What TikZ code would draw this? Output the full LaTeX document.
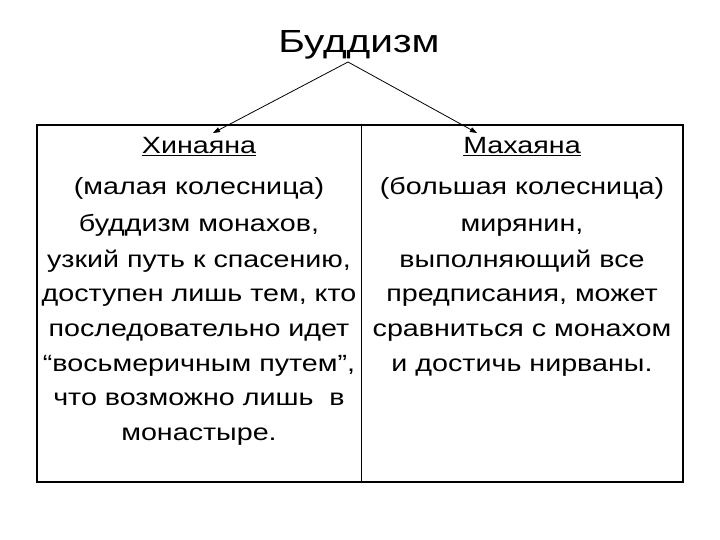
\documentclass[tikz,border=0pt]{standalone}
\usepackage{graphicx}
\usepackage{fontspec}
\setmainfont{Liberation Sans}
\usetikzlibrary{arrows.meta}
\newcommand{\wide}[1]{\scalebox{1.22}[1]{#1}}
\tikzset{
	line/.style={font=\fontsize{23.5}{34}\selectfont, anchor=base, inner sep=0pt},
	frame/.style={line width=1.6pt},
	link/.style={-{Triangle[length=7pt,width=5pt]}, line width=0.8pt}
}

\begin{document}
\begin{tikzpicture}[x=1pt, y=-1pt]
\useasboundingbox (0,0) rectangle (720,540);

\node[font=\fontsize{32}{38}\selectfont, anchor=base, inner sep=0pt] (title) at (359,53) {\scalebox{1.27}[1]{Буддизм}};

% frame and divider
\draw[frame] (37,125) rectangle (683,482);
\draw[line width=0.8pt] (361,125) -- (361,482);

% left column
\foreach \y/\txt [count=\i] in {154/{\underline{Хинаяна}}, 195/{(малая колесница)},
	232/{буддизм монахов,}, 267/{узкий путь к спасению,}, 301/{доступен лишь тем, кто},
	336/{последовательно идет}, 371/{“восьмеричным путем”,}, 405/{что возможно лишь~~в},
	440/{монастыре.}}
{
	\node[line] (hina\i) at (199,\y) {\wide{\txt}};
}

% right column
\foreach \y/\txt [count=\i] in {154/{\underline{Махаяна}}, 195/{(большая колесница)},
	232/{мирянин,}, 267/{выполняющий все}, 301/{предписания, может},
	336/{сравниться с монахом}, 371/{и достичь нирваны.}}
{
	\node[line] (maha\i) at (522,\y) {\wide{\txt}};
}

\coordinate (apex) at (348,62);
\coordinate (hinaend) at (213,133);
\coordinate (mahaend) at (477,133);
\draw[link] (apex) -- (hinaend);
\draw[link] (apex) -- (mahaend);

\end{tikzpicture}
\end{document}
